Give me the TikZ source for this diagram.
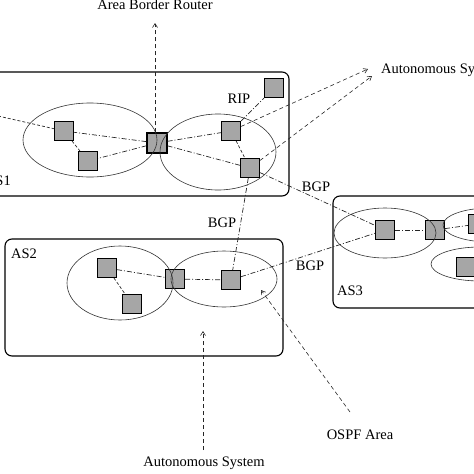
\documentclass[tikz,border=0pt]{standalone}
\usepackage{fontspec}
\setmainfont{Liberation Serif}
\usetikzlibrary{arrows.meta}
\begin{document}
\begin{tikzpicture}[x=1pt,y=-1pt,
  router/.style={draw=black, line width=1.1pt, fill=black!35, minimum size=19pt, inner sep=0pt},
  asbox/.style={draw=black, line width=1.1pt, rounded corners=7pt},
  area/.style={draw=black!80, line width=0.6pt},
  link/.style={draw=black!85, line width=0.7pt, dash pattern=on 5pt off 2pt on 1pt off 2pt},
  shortlink/.style={draw=black!85, line width=0.7pt, dash pattern=on 3pt off 2pt},
  ptr/.style={draw=black!85, line width=0.6pt, dash pattern=on 4pt off 3pt, -{Straight Barb[length=4pt,width=5pt]}},
  lbl/.style={font=\fontsize{14.5}{17}\selectfont, inner sep=0pt}
]
\useasboundingbox (0,0) rectangle (474,474);

% autonomous system boxes
\draw[asbox] (-20,72) rectangle (289,196);
\draw[asbox] (5,239) rectangle (283,356);
\draw[asbox] (333,196) rectangle (510,308);

% routers
\node[router] (a1r1) at (64,131) {};
\node[router] (a1r2) at (88,161) {};
\node[router, minimum size=20pt] (a1abr) at (157,143) {};
\node[router] (a1r3) at (231,131) {};
\node[router] (a1r4) at (250,168) {};
\node[router] (a1rip) at (274,88) {};

\node[router] (a2r1) at (107,268) {};
\node[router] (a2r2) at (132,304) {};
\node[router] (a2abr) at (175,279) {};
\node[router] (a2r3) at (231,280) {};

\node[router] (a3r1) at (385,230) {};
\node[router] (a3abr) at (435,230) {};
\node[router] (a3r2) at (478,224) {};
\node[router] (a3r3) at (466,267) {};

% free ends
\coordinate (cleft) at (-2,116);
\coordinate (c1) at (155,23);
\coordinate (c2) at (368,69);
\coordinate (c3) at (372,76);
\coordinate (c4) at (203,450);
\coordinate (c5) at (203,331);
\coordinate (c6) at (350,412);
\coordinate (c7) at (261,290);

% links inside AS1
\draw[link] (a1abr) -- (a1r1);
\draw[link] (a1abr) -- (a1r2);
\draw[shortlink] (a1r1) -- (a1r2);
\draw[link] (a1abr) -- (a1r3);
\draw[link] (a1abr) -- (a1r4);
\draw[shortlink] (a1r3) -- (a1r4);
\draw[link] (a1r3) -- (a1rip);
\draw[shortlink] (cleft) -- (a1r1);

% links inside AS2
\draw[link] (a2r1) -- (a2abr);
\draw[shortlink] (a2r1) -- (a2r2);
\draw[link] (a2abr) -- (a2r3);

% links inside AS3
\draw[link] (a3r1) -- (a3abr);
\draw[link] (a3abr) -- (a3r2);

% BGP links
\draw[link] (a1r4) -- (a3r1);
\draw[link] (a1r4) -- (a2r3);
\draw[link] (a2r3) -- (a3r1);

% OSPF areas
\draw[area] (90,140) ellipse [x radius=67pt, y radius=37pt];
\draw[area] (218,152) ellipse [x radius=58pt, y radius=38pt];
\draw[area] (120,283) ellipse [x radius=53pt, y radius=37pt];
\draw[area] (224,279) ellipse [x radius=53pt, y radius=28pt];
\draw[area] (385,233) ellipse [x radius=51pt, y radius=25pt];
\draw[area] (490,225) ellipse [x radius=47pt, y radius=17pt];
\draw[area] (480,264) ellipse [x radius=49pt, y radius=17pt];

% pointers to labels
\draw[ptr] (a1abr.north -| c1) -- (c1);
\draw[ptr] (a1r3) -- (c2);
\draw[ptr] (a1r4) -- (c3);
\draw[ptr] (c4) -- (c5);
\draw[ptr] (c6) -- (c7);

% labels
\node[lbl] (tabr) at (155,5) {Area Border Router};
\node[lbl, anchor=west] (tas) at (381,70) {Autonomous System};
\node[lbl] (trip) at (239,99) {RIP};
\node[lbl] (tbgp1) at (316,187) {BGP};
\node[lbl] (tbgp2) at (222,223) {BGP};
\node[lbl] (tbgp3) at (310,266) {BGP};
\node[lbl, anchor=east] (tas1) at (11,181) {AS1};
\node[lbl] (tas2) at (24,254) {AS2};
\node[lbl] (tas3) at (350,291) {AS3};
\node[lbl] (tospf) at (360,435) {OSPF Area};
\node[lbl] (tasb) at (204,463) {Autonomous System};
\end{tikzpicture}
\end{document}
